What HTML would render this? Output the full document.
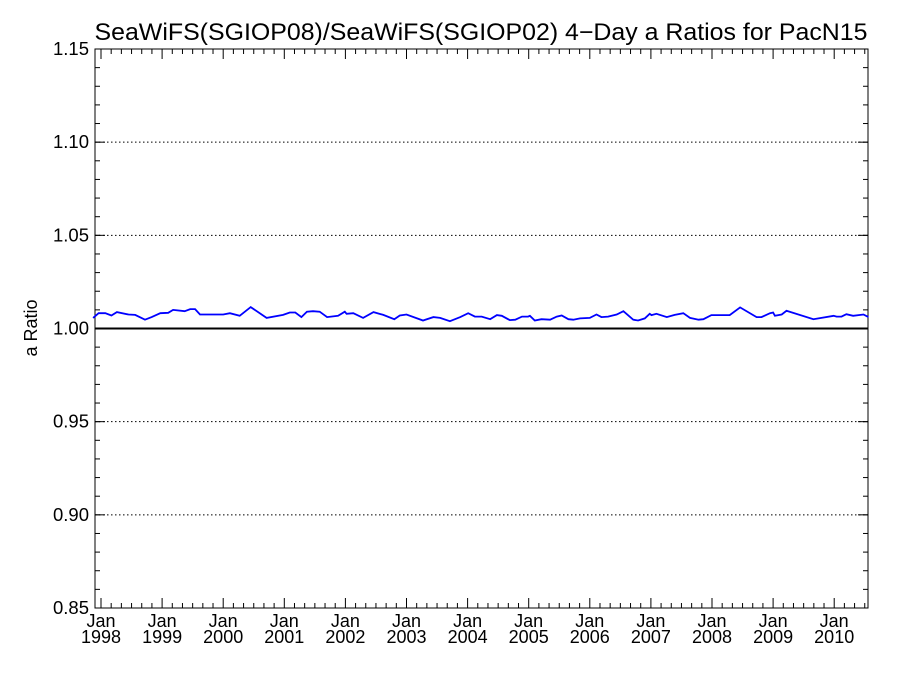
<!DOCTYPE html>
<html><head><meta charset="utf-8"><style>body{margin:0;background:#fff}svg{display:block}</style></head>
<body>
<svg id="chart" width="900" height="675" xmlns="http://www.w3.org/2000/svg" font-family="Liberation Sans, sans-serif">
<rect width="900" height="675" fill="#fff"/>
<text x="481" y="40" font-size="24" text-anchor="middle" textLength="773" lengthAdjust="spacingAndGlyphs">SeaWiFS(SGIOP08)/SeaWiFS(SGIOP02) 4−Day a Ratios for PacN15</text>
<text transform="translate(37,328) rotate(-90)" font-size="18" text-anchor="middle">a Ratio</text>
<g id="grid"></g><g id="axes"></g><g id="series"></g>
</svg>
<script>
const yTicks=[0.85,0.90,0.95,1.00,1.05,1.10,1.15];
const yTickLabels=["0.85","0.90","0.95","1.00","1.05","1.10","1.15"];
const xYears=[1998,1999,2000,2001,2002,2003,2004,2005,2006,2007,2008,2009,2010];
const times=[1997.87,1997.96,1998.07,1998.17,1998.26,1998.45,1998.56,1998.72,1998.83,1998.97,1999.10,1999.18,1999.37,1999.46,1999.54,1999.62,1999.78,2000.00,2000.11,2000.27,2000.45,2000.71,2000.98,2001.09,2001.18,2001.28,2001.37,2001.47,2001.58,2001.70,2001.88,2001.99,2002.02,2002.13,2002.29,2002.46,2002.62,2002.80,2002.89,2003.00,2003.27,2003.44,2003.55,2003.71,2003.88,2004.01,2004.12,2004.23,2004.37,2004.48,2004.56,2004.69,2004.78,2004.89,2004.99,2005.02,2005.10,2005.21,2005.35,2005.46,2005.54,2005.65,2005.73,2005.84,2006.00,2006.11,2006.19,2006.30,2006.44,2006.55,2006.71,2006.79,2006.90,2006.98,2007.01,2007.09,2007.26,2007.39,2007.53,2007.64,2007.78,2007.86,2007.99,2008.29,2008.46,2008.73,2008.81,2008.95,2009.00,2009.03,2009.14,2009.22,2009.66,2009.99,2010.04,2010.12,2010.20,2010.31,2010.48,2010.56];
const ratios=[1.0057,1.0082,1.0082,1.0070,1.0088,1.0075,1.0073,1.0047,1.0061,1.0082,1.0084,1.0100,1.0093,1.0104,1.0104,1.0075,1.0075,1.0075,1.0082,1.0068,1.0115,1.0057,1.0073,1.0086,1.0086,1.0061,1.0090,1.0093,1.0090,1.0061,1.0068,1.0090,1.0079,1.0082,1.0057,1.0088,1.0073,1.0050,1.0070,1.0075,1.0043,1.0061,1.0057,1.0039,1.0061,1.0082,1.0064,1.0064,1.0050,1.0072,1.0068,1.0045,1.0047,1.0064,1.0064,1.0068,1.0043,1.0050,1.0047,1.0064,1.0070,1.0050,1.0047,1.0054,1.0057,1.0075,1.0061,1.0064,1.0075,1.0093,1.0047,1.0043,1.0054,1.0079,1.0072,1.0079,1.0061,1.0073,1.0082,1.0057,1.0047,1.0050,1.0072,1.0072,1.0113,1.0061,1.0061,1.0082,1.0086,1.0068,1.0075,1.0095,1.0050,1.0068,1.0064,1.0064,1.0077,1.0068,1.0075,1.0061];
const L=95,R=868,T=49,B=608,yMin=0.85,yMax=1.15,x0=1998,pxYear=61.1,x0px=101;
const X=t=>x0px+(t-x0)*pxYear;
const Y=v=>B-(v-yMin)/(yMax-yMin)*(B-T);
const NS="http://www.w3.org/2000/svg";
function mk(tag,attrs,parent){const e=document.createElementNS(NS,tag);for(const k in attrs)e.setAttribute(k,attrs[k]);parent.appendChild(e);return e;}
const grid=document.getElementById('grid'),axes=document.getElementById('axes'),series=document.getElementById('series');
yTicks.forEach((v,i)=>{
  const y=Y(v);
  if(v>yMin+1e-9&&v<yMax-1e-9&&Math.abs(v-1)>1e-9){const g=mk('line',{x1:L,x2:R,y1:y,y2:y,stroke:'#000','stroke-width':1,'stroke-dasharray':'1.5,2.5'},grid);
    
    }
  mk('line',{x1:L,x2:L+10,y1:y,y2:y,stroke:'#000'},axes);
  mk('line',{x1:R,x2:R-10,y1:y,y2:y,stroke:'#000'},axes);
  const tx=mk('text',{x:L-6,y:y+6,'font-size':18.5,'text-anchor':'end'},axes);
  tx.textContent=yTickLabels[i];
  
  
});
for(let v=yMin;v<yMax;v+=0.01){const y=Y(v);mk('line',{x1:L,x2:L+5,y1:y,y2:y,stroke:'#000'},axes);mk('line',{x1:R,x2:R-5,y1:y,y2:y,stroke:'#000'},axes);}
mk('line',{x1:L,x2:R,y1:B,y2:B,stroke:'#000','stroke-dasharray':'1.5,2.5'},grid);
xYears.forEach(yr=>{
  const x=X(yr);
  mk('line',{x1:x,x2:x,y1:B,y2:B-10,stroke:'#000'},axes);
  mk('line',{x1:x,x2:x,y1:T,y2:T+10,stroke:'#000'},axes);
  for(let m=2;m<12;m+=2){const xm=X(yr+m/12);if(xm<R){mk('line',{x1:xm,x2:xm,y1:B,y2:B-5,stroke:'#000'},axes);mk('line',{x1:xm,x2:xm,y1:T,y2:T+5,stroke:'#000'},axes);}}
  const t1=mk('text',{x:x,y:627,'font-size':18,'text-anchor':'middle'},axes);t1.textContent='Jan';
  
  
  const t2=mk('text',{x:x,y:643,'font-size':18,'text-anchor':'middle'},axes);t2.textContent=String(yr);
  
  
});
const ref=mk('line',{x1:L,x2:R,y1:Y(1),y2:Y(1),stroke:'#000','stroke-width':2},series);


const pts=times.map((t,i)=>X(t).toFixed(1)+','+Y(ratios[i]).toFixed(1)).join(' ');
const pl=mk('polyline',{points:pts,fill:'none',stroke:'#0000ff','stroke-width':1.8},series);


const fr=mk('rect',{x:L,y:T,width:R-L,height:B-T,fill:'none',stroke:'#000'},axes);


</script>
</body></html>
